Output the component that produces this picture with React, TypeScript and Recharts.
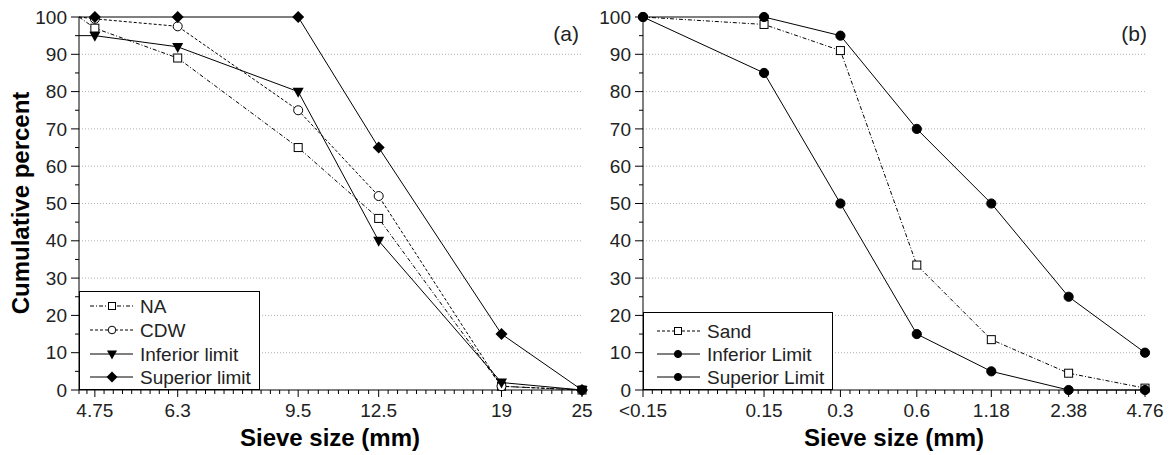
import React from 'react';
import { LineChart, Line, XAxis, YAxis, ReferenceLine } from 'recharts';

// ---------- Data: panel (a) ----------
const sieveA = [4.5, 4.75, 6.3, 9.5, 12.5, 19, 25];
const ticksA = [4.75, 6.3, 9.5, 12.5, 19, 25];
const tickLabelsA = ['4.75', '6.3', '9.5', '12.5', '19', '25'];
const naA = [100, 97, 89, 65, 46, 1, 0];
const cdwA = [100, 99.5, 97.5, 75, 52, 1, 0];
const infA = [95, 95, 92, 80, 40, 2, 0];
const supA = [100, 100, 100, 100, 65, 15, 0];
const namesA = ['NA', 'CDW', 'Inferior limit', 'Superior limit'];

// ---------- Data: panel (b) ----------
const sieveB = [0.05, 0.15, 0.3, 0.6, 1.18, 2.38, 4.76];
const tickLabelsB = ['<0.15', '0.15', '0.3', '0.6', '1.18', '2.38', '4.76'];
const sandB = [100, 98, 91, 33.5, 13.5, 4.5, 0.5];
const infB = [100, 85, 50, 15, 5, 0, 0];
const supB = [100, 100, 95, 70, 50, 25, 10];
const namesB = ['Sand', 'Inferior Limit', 'Superior Limit'];

// ---------- Y axis ----------
const yTicks = [0, 5, 10, 15, 20, 25, 30, 35, 40, 45, 50, 55, 60, 65, 70, 75, 80, 85, 90, 95, 100];
const gridValues = [10, 20, 30, 40, 50, 60, 70, 80, 90];

const FONT = '"Liberation Sans", Arial, Helvetica, sans-serif';

const dataA = sieveA.map((x, i) => ({ x, na: naA[i], cdw: cdwA[i], inf: infA[i], sup: supA[i] }));
const dataB = sieveB.map((x, i) => ({ x, sand: sandB[i], inf: infB[i], sup: supB[i] }));

// minor tick positions (axis decoration only), evenly spaced in log space
function withMinor(bounds: number[], pxPerDecade: number, step: number) {
  const out: number[] = [];
  for (let i = 0; i < bounds.length - 1; i++) {
    const a = bounds[i];
    const b = bounds[i + 1];
    const n = Math.max(1, Math.round((Math.log10(b / a) * pxPerDecade) / step));
    for (let k = 0; k < n; k++) out.push(k === 0 ? a : a * Math.pow(b / a, k / n));
  }
  out.push(bounds[bounds.length - 1]);
  return out;
}
const allTicksA = withMinor([4.5, ...ticksA], 676, 9.5);
const allTicksB = withMinor(sieveB, 253, 9.5);

// ---------- marker shapes ----------
const Square = (cx: number, cy: number, s: number, key?: any) => (
  <rect key={key} x={cx - s / 2} y={cy - s / 2} width={s} height={s} fill="#fff" stroke="#000" strokeWidth={1} />
);
const Circ = (cx: number, cy: number, r: number, filled: boolean, key?: any) => (
  <circle key={key} cx={cx} cy={cy} r={r} fill={filled ? '#000' : '#fff'} stroke="#000" strokeWidth={1} />
);
const TriDown = (cx: number, cy: number, w: number, key?: any) => (
  <path key={key} d={`M${cx - w / 2},${cy - w * 0.36} L${cx + w / 2},${cy - w * 0.36} L${cx},${cy + w * 0.55} Z`} fill="#000" />
);
const Diamond = (cx: number, cy: number, r: number, key?: any) => (
  <path key={key} d={`M${cx},${cy - r} L${cx + r},${cy} L${cx},${cy + r} L${cx - r},${cy} Z`} fill="#000" />
);

const dotA = (kind: string) => (p: any) => {
  const key = `${kind}-${p.index}`;
  if (p.index === 0 || p.cx == null || p.cy == null) return <g key={key} />;
  if (kind === 'sq') return Square(p.cx, p.cy, 8, key);
  if (kind === 'circ') return Circ(p.cx, p.cy, 4.5, false, key);
  if (kind === 'tri') return TriDown(p.cx, p.cy, 11, key);
  return Diamond(p.cx, p.cy, 6, key);
};
const dotB = (kind: string) => (p: any) => {
  const key = `${kind}-${p.index}`;
  if (p.cx == null || p.cy == null) return <g key={key} />;
  if (kind === 'sq') {
    if (p.index === 0) return <g key={key} />;
    return Square(p.cx, p.cy, 8, key);
  }
  return Circ(p.cx, p.cy, 4.6, true, key);
};

// ---------- ticks ----------
const makeXTick = (majors: number[], labels: string[]) => (props: any) => {
  const { x, y, payload } = props;
  const idx = majors.indexOf(payload.value);
  const major = idx >= 0;
  return (
    <g>
      <line x1={x} x2={x} y1={y} y2={y + (major ? 7 : 4)} stroke="#000" strokeWidth={1} />
      {major && (
        <text x={x} y={y + 27} textAnchor="middle" fontSize={19} fontFamily={FONT} fill="#222">
          {labels[idx]}
        </text>
      )}
    </g>
  );
};
const YTick = (props: any) => {
  const { x, y, payload } = props;
  const major = payload.value % 10 === 0;
  return (
    <g>
      <line x1={x - (major ? 8 : 4)} x2={x} y1={y} y2={y} stroke="#000" strokeWidth={1} />
      {major && (
        <text x={x - 12} y={y} dy="0.35em" textAnchor="end" fontSize={19} fontFamily={FONT} fill="#222">
          {payload.value}
        </text>
      )}
    </g>
  );
};

const XTickA = makeXTick(ticksA, tickLabelsA);
const XTickB = makeXTick(sieveB, tickLabelsB);

const grid = gridValues.map((v) => (
  <ReferenceLine key={`g${v}`} y={v} stroke="#b0b0b0" strokeDasharray="1 2" strokeWidth={1} />
));

export default function App() {
  const legendA = [
    { label: namesA[0], y: 306, dash: '4 2 1 2', m: (x: number, y: number) => Square(x, y, 7) },
    { label: namesA[1], y: 330, dash: '3 2', m: (x: number, y: number) => Circ(x, y, 3.8, false) },
    { label: namesA[2], y: 354, dash: undefined, m: (x: number, y: number) => TriDown(x, y, 10) },
    { label: namesA[3], y: 377, dash: undefined, m: (x: number, y: number) => Diamond(x, y, 5.5) },
  ];
  const legendB = [
    { label: namesB[0], y: 331, dash: '3 2', m: (x: number, y: number) => Square(x, y, 7) },
    { label: namesB[1], y: 354, dash: undefined, m: (x: number, y: number) => Circ(x, y, 3.6, true) },
    { label: namesB[2], y: 377, dash: undefined, m: (x: number, y: number) => Circ(x, y, 3.6, true) },
  ];
  return (
    <div style={{ position: 'absolute', left: 0, top: 0, width: 1171, height: 455, background: '#fff', overflow: 'hidden' }}>
      <div style={{ position: 'absolute', left: 0, top: 0 }}>
        <LineChart width={610} height={455} data={dataA} margin={{ top: 17, right: 28, bottom: 0, left: 0 }}>
          {grid}
          <XAxis
            dataKey="x"
            type="number"
            scale="log"
            domain={[4.5, 25]}
            ticks={allTicksA}
            interval={0}
            tickSize={0}
            tickMargin={0}
            tickLine={false}
            tick={XTickA}
            height={65}
            axisLine={{ stroke: '#000', strokeWidth: 1 }}
          />
          <YAxis
            type="number"
            domain={[0, 100]}
            ticks={yTicks}
            interval={0}
            tickSize={0}
            tickMargin={0}
            tickLine={false}
            tick={YTick}
            width={79}
            axisLine={{ stroke: '#000', strokeWidth: 1 }}
          />
          <Line dataKey="na" type="linear" stroke="#000" strokeWidth={1} strokeDasharray="4 2 1 2" dot={dotA('sq')} activeDot={false} isAnimationActive={false} />
          <Line dataKey="cdw" type="linear" stroke="#000" strokeWidth={1} strokeDasharray="3 2" dot={dotA('circ')} activeDot={false} isAnimationActive={false} />
          <Line dataKey="inf" type="linear" stroke="#000" strokeWidth={1} dot={dotA('tri')} activeDot={false} isAnimationActive={false} />
          <Line dataKey="sup" type="linear" stroke="#000" strokeWidth={1} dot={dotA('dia')} activeDot={false} isAnimationActive={false} />
        </LineChart>
      </div>
      <div style={{ position: 'absolute', left: 590, top: 0 }}>
        <LineChart width={581} height={455} data={dataB} margin={{ top: 17, right: 26, bottom: 0, left: 0 }}>
          {grid}
          <XAxis
            dataKey="x"
            type="number"
            scale="log"
            domain={[0.05, 4.76]}
            ticks={allTicksB}
            interval={0}
            tickSize={0}
            tickMargin={0}
            tickLine={false}
            tick={XTickB}
            height={65}
            axisLine={{ stroke: '#000', strokeWidth: 1 }}
          />
          <YAxis
            type="number"
            domain={[0, 100]}
            ticks={yTicks}
            interval={0}
            tickSize={0}
            tickMargin={0}
            tickLine={false}
            tick={YTick}
            width={53}
            axisLine={{ stroke: '#000', strokeWidth: 1 }}
          />
          <Line dataKey="sand" type="linear" stroke="#000" strokeWidth={1} strokeDasharray="4 2 1 2" dot={dotB('sq')} activeDot={false} isAnimationActive={false} />
          <Line dataKey="inf" type="linear" stroke="#000" strokeWidth={1} dot={dotB('circ')} activeDot={false} isAnimationActive={false} />
          <Line dataKey="sup" type="linear" stroke="#000" strokeWidth={1} dot={dotB('circ')} activeDot={false} isAnimationActive={false} />
        </LineChart>
      </div>
      <svg style={{ position: 'absolute', left: 0, top: 0, pointerEvents: 'none' }} width={1171} height={455}>
        <text transform="translate(29,203) rotate(-90)" textAnchor="middle" fontSize={24} fontWeight="bold" fontFamily={FONT} fill="#000">
          Cumulative percent
        </text>
        <text x={330} y={446} textAnchor="middle" fontSize={24} fontWeight="bold" fontFamily={FONT} fill="#000">
          Sieve size (mm)
        </text>
        <text x={894} y={446} textAnchor="middle" fontSize={24} fontWeight="bold" fontFamily={FONT} fill="#000">
          Sieve size (mm)
        </text>
        <text x={579} y={41} textAnchor="end" fontSize={21} fontFamily={FONT} fill="#222">(a)</text>
        <text x={1147} y={41} textAnchor="end" fontSize={21} fontFamily={FONT} fill="#222">(b)</text>

        <rect x={79.5} y={291.5} width={180} height={98} fill="#fff" stroke="#000" strokeWidth={1} />
        {legendA.map((r, i) => (
          <g key={`la${i}`}>
            <line x1={90} x2={133} y1={r.y} y2={r.y} stroke="#000" strokeWidth={1} strokeDasharray={r.dash} />
            {r.m(112, r.y)}
            <text x={140} y={r.y + 7} fontSize={19} fontFamily={FONT} fill="#222">{r.label}</text>
          </g>
        ))}

        <rect x={643.5} y={312.5} width={189} height={77} fill="#fff" stroke="#000" strokeWidth={1} />
        {legendB.map((r, i) => (
          <g key={`lb${i}`}>
            <line x1={657} x2={700} y1={r.y} y2={r.y} stroke="#000" strokeWidth={1} strokeDasharray={r.dash} />
            {r.m(678, r.y)}
            <text x={707} y={r.y + 7} fontSize={19} fontFamily={FONT} fill="#222">{r.label}</text>
          </g>
        ))}
      </svg>
    </div>
  );
}
